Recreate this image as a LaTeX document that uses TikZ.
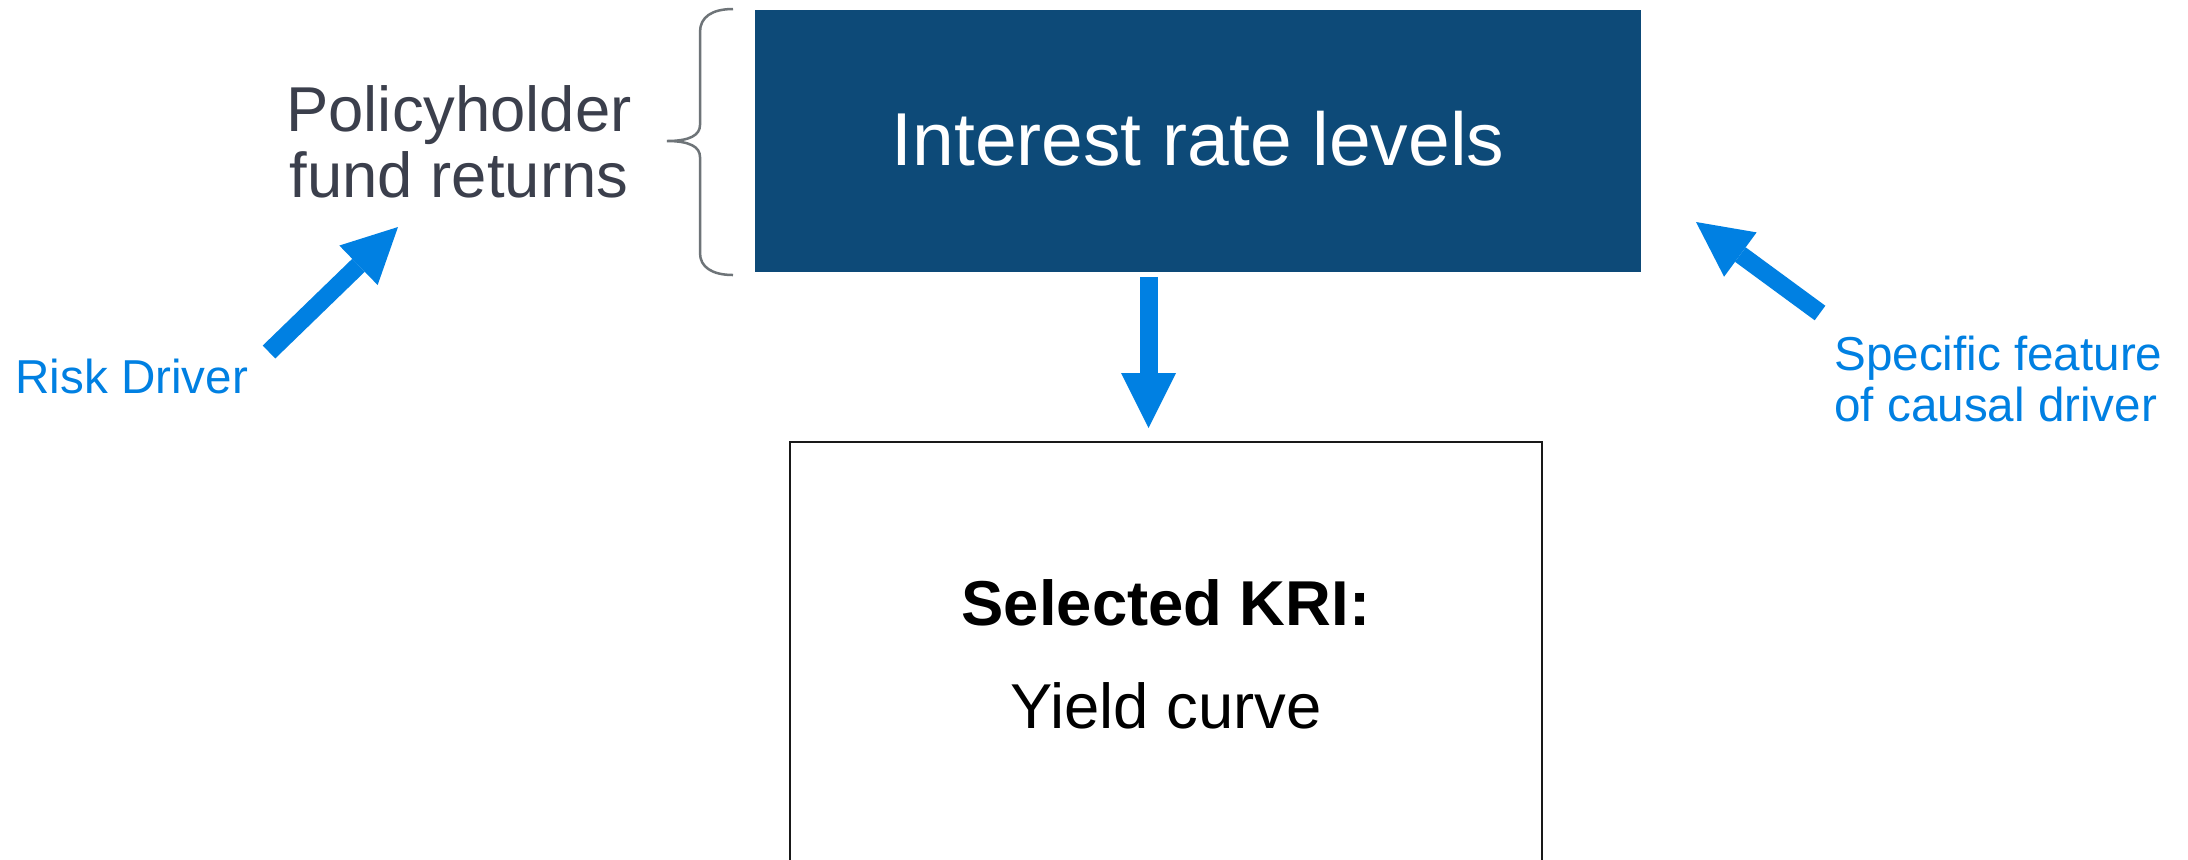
\documentclass[tikz,border=0pt]{standalone}
\usepackage{fontspec}
\setmainfont{Liberation Sans}
\usetikzlibrary{arrows.meta}
\definecolor{navy}{RGB}{13,74,120}
\definecolor{arrowblue}{RGB}{0,128,226}
\definecolor{bracegray}{RGB}{110,116,120}
\definecolor{labelgray}{RGB}{59,63,76}
\tikzset{
  bigarrow/.style={draw=arrowblue, line width=9pt,
    -{Triangle[length=27.5pt,width=27.5pt,line width=0pt]}},
  bluelabel/.style={text=arrowblue, inner sep=0pt, font=\fontsize{23.8pt}{25.5pt}\selectfont},
  mainlabel/.style={inner sep=0pt, font=\fontsize{31.7pt}{34pt}\selectfont},
}
\begin{document}
\begin{tikzpicture}[x=0.5pt,y=-0.5pt]
\clip (0,0) rectangle (2188,859);
\fill[white] (0,0) rectangle (2188,859);

% main driver box
\node[fill=navy, minimum width=443pt, minimum height=131pt, inner sep=0pt] (rate) at (1198,141) {};
\node[text=white, inner sep=0pt, anchor=base, font=\fontsize{37.5pt}{40pt}\selectfont] (ratetxt) at (1198,165) {Interest rate levels};

% selected KRI box (runs past the lower edge)
\node[draw=black!90, line width=1.2pt, minimum width=376pt, minimum height=280pt, inner sep=0pt] (kri) at (1166,722) {};
\node[mainlabel, anchor=base, font=\bfseries\fontsize{31.7pt}{34pt}\selectfont] (kri1) at (1166,625) {Selected KRI:};
\node[mainlabel, anchor=base] (kri2) at (1166,728) {Yield curve};

% risk driver label and brace
\node[mainlabel, anchor=base, text=labelgray] (ph1) at (459,131) {Policyholder};
\node[mainlabel, anchor=base, text=labelgray] (ph2) at (459,197) {fund returns};
\draw[bracegray, line width=1.25pt]
  (733,9) .. controls (712,9) and (700,17) .. (700,32) -- (700,125)
  .. controls (700,135) and (690,141) .. (667,141)
  .. controls (690,141) and (700,147) .. (700,157) -- (700,253)
  .. controls (700,267) and (712,275) .. (733,275);

% annotations
\node[bluelabel, anchor=base west] (rd) at (15,393) {Risk Driver};
\node[bluelabel, anchor=base west] (sf1) at (1834,370) {Specific feature};
\node[bluelabel, anchor=base west] (sf2) at (1834,421) {of causal driver};

% arrow end points
\coordinate (rdTail) at (269,352);
\coordinate (rdTip) at (398,227);
\coordinate (sfTail) at (1820,313);
\coordinate (sfTip) at (1696,222);
\coordinate (downTop) at (1148.5,277);
\coordinate (downTip) at (1148.5,428);

\draw[bigarrow] (rdTail) -- (rdTip);
\draw[bigarrow] (sfTail) -- (sfTip);
\draw[bigarrow] (downTop) -- (downTip);
\end{tikzpicture}
\end{document}
